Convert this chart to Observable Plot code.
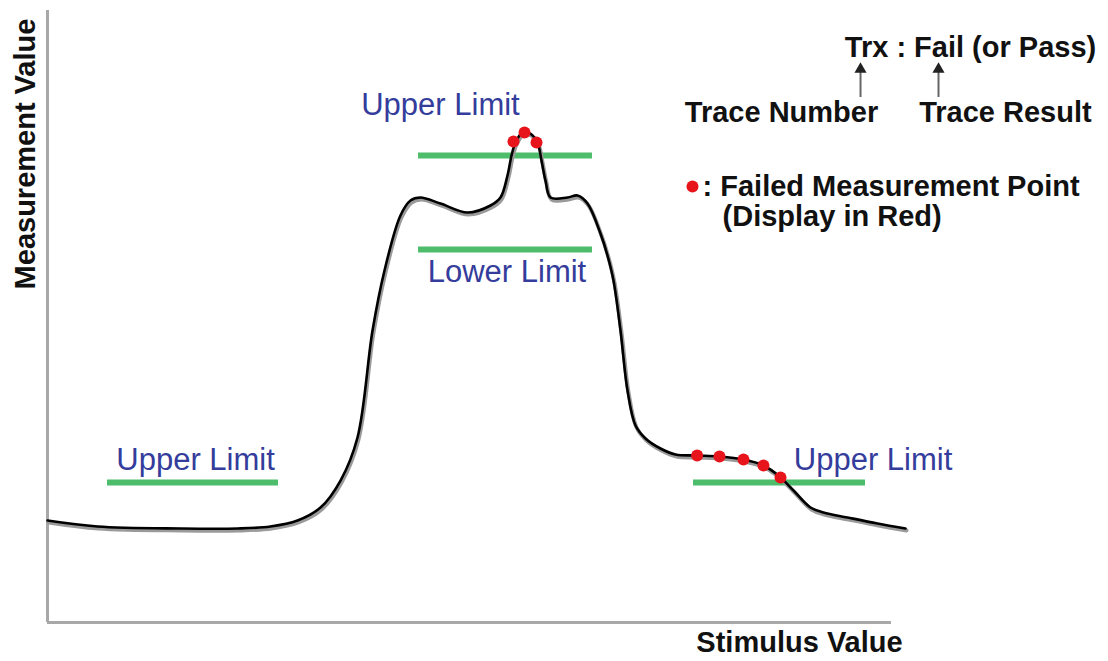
<!DOCTYPE html>
<html>
<head>
<meta charset="utf-8">
<script src="https://cdn.jsdelivr.net/npm/d3@7"></script>
<script src="https://cdn.jsdelivr.net/npm/@observablehq/plot@0.6"></script>
<style>
  html, body { margin: 0; padding: 0; background: #fff; }
  #chart svg { display: block; }
</style>
</head>
<body>
<div id="chart"></div>
<script>
const traceX = [0, 5.92, 15.76, 22.51, 26.42, 29.62, 32.35, 34.72, 36.73, 38.51, 39.93, 41.82, 43.01, 44.19, 46.56, 49.76, 52.49, 53.67, 54.50, 54.98, 55.45, 56.40, 57.35, 58.06, 58.53, 59.00, 59.60, 61.61, 62.80, 63.98, 65.52, 66.35, 67.06, 67.89, 68.72, 69.67, 70.85, 72.63, 74.41, 76.97, 79.62, 82.46, 84.83, 86.73, 88.39, 90.40, 91.94, 94.79, 98.34, 101.66];
const traceY = [16.67, 15.69, 15.36, 15.36, 15.69, 16.67, 18.79, 23.2, 30.23, 47.71, 57.52, 66.50, 68.95, 69.44, 68.46, 66.99, 68.14, 69.44, 73.04, 76.31, 78.43, 80.23, 79.74, 78.43, 75.49, 72.22, 69.44, 69.44, 69.77, 68.46, 63.56, 59.97, 55.88, 47.71, 37.91, 32.19, 30.07, 28.43, 27.45, 27.29, 27.12, 26.63, 25.65, 23.86, 21.57, 18.79, 17.97, 17.16, 16.18, 15.36];

// Failed measurement points
const failX = [55.21, 56.52, 57.94, 76.97, 79.62, 82.46, 84.83, 86.85];
const failY = [78.59, 80.07, 78.43, 27.29, 27.12, 26.63, 25.65, 23.69];

// Limit lines
const limitName = ["Upper Limit", "Upper Limit", "Lower Limit", "Upper Limit"];
const limitX1 = [7.11, 43.96, 43.96, 76.54];
const limitX2 = [27.37, 64.57, 64.57, 96.92];
const limitY = [22.88, 76.31, 60.95, 22.88];
const limitLabelX = [17.54, 46.56, 54.44, 97.81];
const limitLabelY = [26.47, 84.48, 57.19, 26.47];

// Annotation texts
const noteText = ["Trx : Fail (or Pass)", "Trace Number", "Trace Result"];
const noteX = [109.36, 86.97, 113.5];
const noteY = [93.95, 83.33, 83.33];
const arrowX = [96.33, 105.57];
const arrowY1 = [85.78, 85.78];
const arrowY2 = [90.4, 90.4];
const legendText = [": Failed Measurement Point", "(Display in Red)"];
const legendX = [77.61, 79.98];
const legendY = [71.24, 66.34];
const legendDotX = [76.42];
const legendDotY = [71.24];

const trace = traceX.map((x, i) => ({x, y: traceY[i]}));
const fails = failX.map((x, i) => ({x, y: failY[i]}));
const limits = limitName.map((name, i) => ({name, x1: limitX1[i], x2: limitX2[i], y: limitY[i], lx: limitLabelX[i], ly: limitLabelY[i]}));
const notes = noteText.map((t, i) => ({t, x: noteX[i], y: noteY[i]}));
const arrows = arrowX.map((x, i) => ({x, y1: arrowY1[i], y2: arrowY2[i]}));
const legend = legendText.map((t, i) => ({t, x: legendX[i], y: legendY[i]}));

const font = "Liberation Sans, Arial, sans-serif";

const chart = Plot.plot({
  width: 1108,
  height: 661,
  marginLeft: 47,
  marginRight: 217,
  marginTop: 10,
  marginBottom: 39,
  x: {domain: [0, 100], axis: null},
  y: {domain: [0, 100], axis: null},
  style: {fontFamily: font, background: "#fff"},
  marks: [
    Plot.ruleX([0], {y1: 0, y2: 100, stroke: "#a8a8a8", strokeWidth: 3}),
    Plot.ruleY([0], {x1: 0, x2: 100, stroke: "#a8a8a8", strokeWidth: 3}),
    Plot.ruleY(limits, {x1: "x1", x2: "x2", y: "y", stroke: "#4dbd6b", strokeWidth: 6}),
    Plot.line(trace, {x: "x", y: "y", curve: "catmull-rom", stroke: "#9a9a9a", strokeWidth: 4, dx: 1, dy: 2}),
    Plot.line(trace, {x: "x", y: "y", curve: "catmull-rom", stroke: "#000", strokeWidth: 2.6}),
    Plot.dot(fails, {x: "x", y: "y", r: 6, fill: "#e8141c", stroke: "none"}),
    Plot.text(limits, {x: "lx", y: "ly", text: "name", fill: "#343c9c", fontSize: 31, fontFamily: font}),
    Plot.text(notes, {x: "x", y: "y", text: "t", fill: "#111", fontSize: 29, fontWeight: "bold", fontFamily: font}),
    Plot.ruleX(arrows, {x: "x", y1: "y1", y2: "y2", stroke: "#666", strokeWidth: 2}),
    Plot.dot(arrows, {x: "x", y: "y2", symbol: "triangle", r: 4.5, fill: "#222", stroke: "none"}),
    Plot.dot(legendDotX.map((x, i) => ({x, y: legendDotY[i]})), {x: "x", y: "y", r: 6, fill: "#e8141c"}),
    Plot.text(legend, {x: "x", y: "y", text: "t", textAnchor: "start", fill: "#111", fontSize: 29, fontWeight: "bold", fontFamily: font}),
    Plot.text(["Stimulus Value"], {x: 89.1, y: -3.27, fill: "#111", fontSize: 29, fontWeight: "bold", fontFamily: font}),
    Plot.text(["Measurement Value"], {x: -2.61, y: 76.55, rotate: -90, fill: "#111", fontSize: 29, fontWeight: "bold", fontFamily: font})
  ]
});
document.getElementById("chart").appendChild(chart);
</script>
</body>
</html>
